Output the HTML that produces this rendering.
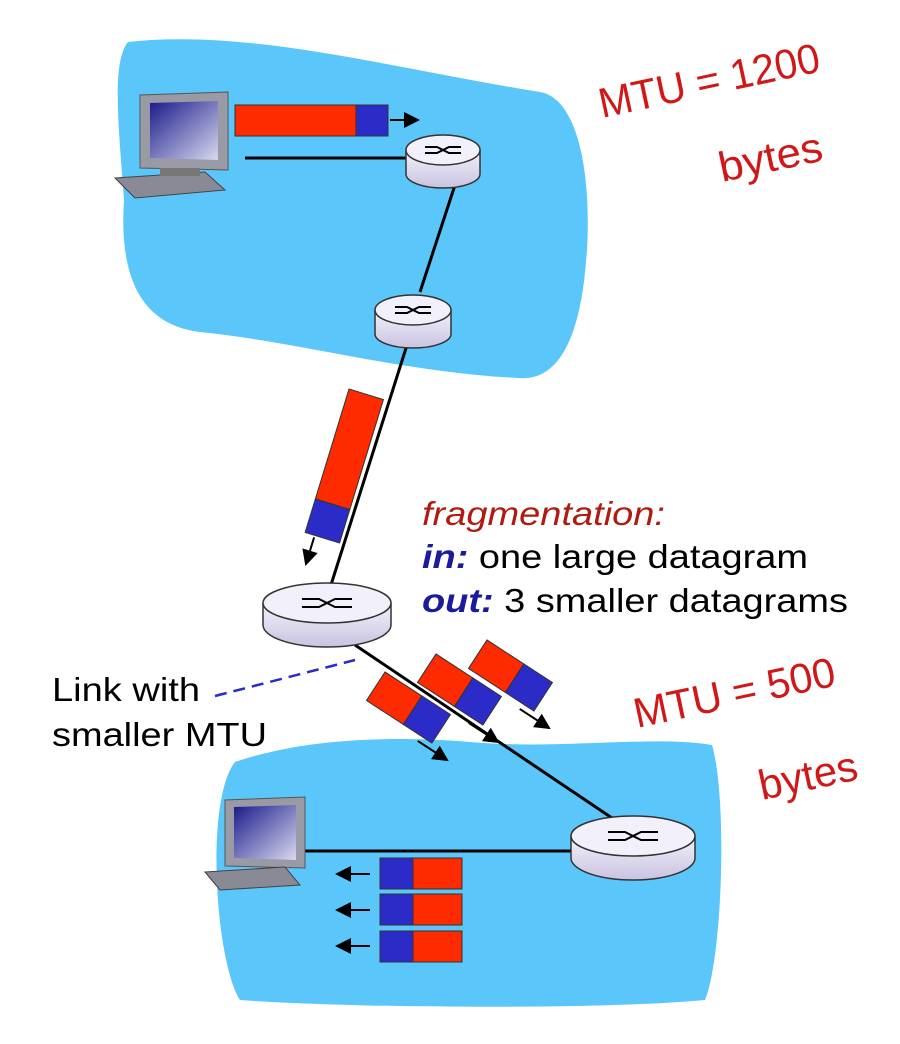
<!DOCTYPE html>
<html><head><meta charset="utf-8"><style>
body{margin:0;background:#fff;}
svg{display:block;font-family:"Liberation Sans",sans-serif;}
</style></head><body>
<svg width="900" height="1044" viewBox="0 0 900 1044">
<defs>
<linearGradient id="rg" x1="0" x2="0" y1="0" y2="1"><stop offset="0" stop-color="#f4f2fb"/><stop offset="1" stop-color="#c9c3e0"/></linearGradient>
<linearGradient id="sg" x1="0" x2="1" y1="0" y2="1"><stop offset="0" stop-color="#1a1a8a"/><stop offset="1" stop-color="#d8d8f0"/></linearGradient>
<marker id="ah" markerWidth="8" markerHeight="8" refX="7" refY="4" orient="auto"><path d="M0,0 L8,4 L0,8 Z" fill="#000"/></marker>
</defs>
<path fill="#5bc6fa" d="M128,42 C250,28 400,70 540,92 C585,100 592,200 586,262 C580,335 560,382 518,378 C400,372 300,342 200,332 C150,326 118,290 124,200 C118,120 112,62 128,42 Z"/>
<path fill="#5bc6fa" d="M235,762 C300,740 380,735 470,742 C560,750 650,735 712,745 C728,800 722,960 705,1000 C600,1010 350,1008 240,1000 C215,960 205,800 235,762 Z"/>
<g stroke="#000" stroke-width="3" fill="none">
<line x1="245" y1="158" x2="410" y2="158"/>
<line x1="455" y1="185" x2="420" y2="292"/>
<line x1="407" y1="345" x2="330" y2="588"/>
<line x1="355" y1="645" x2="612" y2="818"/>
<line x1="305" y1="851" x2="572" y2="851"/>
</g>
<g transform="translate(443,150)"><path d="M-37,0 V24 A37,14 0 0 0 37,24 V0" fill="url(#rg)" stroke="#333" stroke-width="1.5"/><ellipse rx="37" ry="15" fill="#f2f0fa" stroke="#333" stroke-width="1.5"/><path d="M-18,-3 H-6 L6,3 H18 M-18,3 H-6 L6,-3 H18" stroke="#000" stroke-width="2" fill="none"/></g>
<g transform="translate(413,310)"><path d="M-38,0 V24 A38,14 0 0 0 38,24 V0" fill="url(#rg)" stroke="#333" stroke-width="1.5"/><ellipse rx="38" ry="15" fill="#f2f0fa" stroke="#333" stroke-width="1.5"/><path d="M-18,-3 H-6 L6,3 H18 M-18,3 H-6 L6,-3 H18" stroke="#000" stroke-width="2" fill="none"/></g>
<g transform="translate(327,603)"><path d="M-64,0 V22 A64,22 0 0 0 64,22 V0" fill="url(#rg)" stroke="#333" stroke-width="1.5"/><ellipse rx="64" ry="20" fill="#f2f0fa" stroke="#333" stroke-width="1.5"/><path d="M-25,-4 H-8 L8,4 H25 M-25,4 H-8 L8,-4 H25" stroke="#000" stroke-width="2" fill="none"/></g>
<g transform="translate(633,836)"><path d="M-62,0 V22 A62,22 0 0 0 62,22 V0" fill="url(#rg)" stroke="#333" stroke-width="1.5"/><ellipse rx="62" ry="20" fill="#f2f0fa" stroke="#333" stroke-width="1.5"/><path d="M-25,-4 H-8 L8,4 H25 M-25,4 H-8 L8,-4 H25" stroke="#000" stroke-width="2" fill="none"/></g>
<g>
<path d="M140,95 L228,92 L228,170 L140,168 Z" fill="#9a9aa6" stroke="#555"/>
<path d="M150,103 L218,101 L218,160 L150,158 Z" fill="url(#sg)"/>
<path d="M115,178 L205,172 L225,190 L135,198 Z" fill="#8a8a96" stroke="#444"/>
<rect x="160" y="168" width="40" height="8" fill="#777"/>
</g>
<g>
<path d="M225,800 L305,797 L305,868 L225,866 Z" fill="#9a9aa6" stroke="#555"/>
<path d="M234,807 L296,805 L296,860 L234,858 Z" fill="url(#sg)"/>
<path d="M205,872 L285,867 L300,885 L220,890 Z" fill="#8a8a96" stroke="#444"/>
</g>
<g>
<rect x="235" y="105" width="121" height="31" fill="#fe2a00" stroke="#333"/>
<rect x="356" y="105" width="32" height="31" fill="#2b2bc8" stroke="#333"/>
<line x1="390" y1="120" x2="418" y2="120" stroke="#000" stroke-width="2" marker-end="url(#ah)"/>
</g>
<g transform="translate(349,389) rotate(17)">
<rect x="0" y="0" width="36" height="115" fill="#fe2a00" stroke="#333"/>
<rect x="0" y="115" width="36" height="35" fill="#2b2bc8" stroke="#333"/>
<line x1="10" y1="152" x2="10" y2="180" stroke="#000" stroke-width="2" marker-end="url(#ah)"/>
</g>
<g transform="translate(385,672) rotate(33)"><rect x="0" y="0" width="44" height="34" fill="#fe2a00" stroke="#333"/><rect x="44" y="0" width="34" height="34" fill="#2b2bc8" stroke="#333"/><line x1="65" y1="40" x2="100" y2="40" stroke="#000" stroke-width="2" marker-end="url(#ah)"/></g>
<g transform="translate(436,654) rotate(33)"><rect x="0" y="0" width="44" height="34" fill="#fe2a00" stroke="#333"/><rect x="44" y="0" width="34" height="34" fill="#2b2bc8" stroke="#333"/><line x1="65" y1="40" x2="100" y2="40" stroke="#000" stroke-width="2" marker-end="url(#ah)"/></g>
<g transform="translate(487,640) rotate(33)"><rect x="0" y="0" width="44" height="34" fill="#fe2a00" stroke="#333"/><rect x="44" y="0" width="34" height="34" fill="#2b2bc8" stroke="#333"/><line x1="65" y1="40" x2="100" y2="40" stroke="#000" stroke-width="2" marker-end="url(#ah)"/></g>
<g>
<rect x="380" y="858" width="33" height="31" fill="#2b2bc8" stroke="#333"/><rect x="413" y="858" width="49" height="31" fill="#fe2a00" stroke="#333"/>
<rect x="380" y="894" width="33" height="31" fill="#2b2bc8" stroke="#333"/><rect x="413" y="894" width="49" height="31" fill="#fe2a00" stroke="#333"/>
<rect x="380" y="931" width="33" height="31" fill="#2b2bc8" stroke="#333"/><rect x="413" y="931" width="49" height="31" fill="#fe2a00" stroke="#333"/>
<g stroke="#000" stroke-width="2"><line x1="370" y1="874" x2="337" y2="874" marker-end="url(#ah)"/><line x1="370" y1="910" x2="337" y2="910" marker-end="url(#ah)"/><line x1="370" y1="946" x2="337" y2="946" marker-end="url(#ah)"/></g>
</g>
<line x1="215" y1="696" x2="355" y2="660" stroke="#2b2bc8" stroke-width="2.5" stroke-dasharray="12,7"/>
<text x="422" y="525" font-size="33" font-style="italic" fill="#b01a10" textLength="243" lengthAdjust="spacingAndGlyphs">fragmentation:</text>
<text x="422" y="568" font-size="33" fill="#000" textLength="386" lengthAdjust="spacingAndGlyphs"><tspan font-weight="bold" font-style="italic" fill="#1c1c9a">in:</tspan> one large datagram</text>
<text x="422" y="612" font-size="33" fill="#000" textLength="426" lengthAdjust="spacingAndGlyphs"><tspan font-weight="bold" font-style="italic" fill="#1c1c9a">out:</tspan> 3 smaller datagrams</text>
<text x="52" y="701" font-size="33" fill="#000" textLength="148" lengthAdjust="spacingAndGlyphs">Link with</text>
<text x="52" y="746" font-size="33" fill="#000" textLength="215" lengthAdjust="spacingAndGlyphs">smaller MTU</text>
<g font-family="'Liberation Sans',sans-serif" fill="#d01818" font-size="42">
<text x="602" y="118" transform="rotate(-12 602 118)" textLength="225" lengthAdjust="spacingAndGlyphs">MTU = 1200</text>
<text x="722" y="182" transform="rotate(-12 722 182)" textLength="105" lengthAdjust="spacingAndGlyphs">bytes</text>
<text x="637" y="728" transform="rotate(-12 637 728)" textLength="205" lengthAdjust="spacingAndGlyphs">MTU = 500</text>
<text x="762" y="800" transform="rotate(-12 762 800)" textLength="100" lengthAdjust="spacingAndGlyphs">bytes</text>
</g>
</svg>
</body></html>
